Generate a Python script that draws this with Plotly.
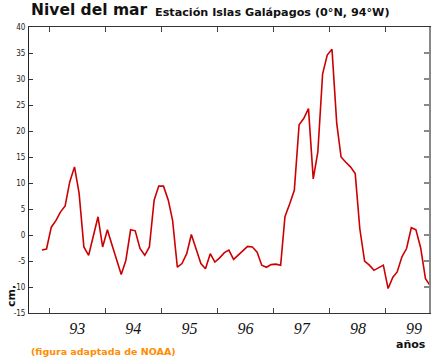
import pandas as pd
import plotly.graph_objects as go

# Monthly sea level anomaly (cm), Oct 1992 - Sep 1999
start_month = "1992-10-15"
sea_level = [
    -2.9, -2.7, 1.5, 2.8, 4.4, 5.6, 10.2, 13.1, 8.0, -2.3, -3.9, -0.4,
    3.5, -2.3, 1.0, -2.0, -4.8, -7.6, -4.9, 1.0, 0.8, -2.6, -3.9, -2.3,
    6.7, 9.4, 9.4, 6.7, 2.8, -6.2, -5.5, -3.6, 0.1, -2.9, -5.5, -6.5,
    -3.6, -5.2, -4.4, -3.4, -2.9, -4.7, -3.9, -3.0, -2.2, -2.3, -3.3, -5.8,
    -6.2, -5.7, -5.6, -5.8, 3.5, 6.0, 8.6, 21.2, 22.4, 24.3, 10.8, 16.0,
    31.0, 34.6, 35.7, 21.4, 15.0, 14.0, 13.1, 11.8, 1.2, -5.0, -5.8, -6.8,
    -6.3, -5.8, -10.3, -8.1, -7.1, -4.2, -2.6, 1.4, 1.0, -2.5, -8.4, -9.7,
]
dates = pd.date_range(start=start_month, periods=len(sea_level), freq="MS") + pd.Timedelta(days=14)

y_ticks = [40, 35, 30, 25, 20, 15, 10, 5, 0, -5, -10, -15]
x_range = ["1992-08-23", "1999-10-08"]
y_range = [-15, 40]

title_text = "Nivel del mar"
subtitle_text = "Estación Islas Galápagos (0°N, 94°W)"
x_title = "años"
y_title = "cm."
source_text = "(figura adaptada de NOAA)"

fig = go.Figure()
fig.add_trace(go.Scatter(
    x=dates, y=sea_level, mode="lines",
    line=dict(color="#cc0000", width=1.6),
    hoverinfo="skip", showlegend=False,
))
fig.add_trace(go.Scatter(
    x=[dates[0]], y=[sea_level[0]], yaxis="y2", mode="lines",
    line=dict(width=0), hoverinfo="skip", showlegend=False,
))

L, R, T, B = 29, 11, 27, 50
fig.update_layout(
    width=440, height=363,
    margin=dict(l=L, r=R, t=T, b=B),
    paper_bgcolor="white", plot_bgcolor="white",
    font=dict(family="DejaVu Sans", color="black"),
    xaxis=dict(
        type="date", range=x_range, dtick="M12", tick0="1993-01-01",
        tickformat="%y", ticklabelmode="period",
        ticks="inside", ticklen=5, tickcolor="#444", tickwidth=1,
        showline=True, linecolor="#333", linewidth=1, mirror="ticks",
        showgrid=False, zeroline=False,
        tickfont=dict(family="Liberation Serif", size=16, style="italic", color="#111"),
        ticklabelstandoff=1,
    ),
    yaxis=dict(
        range=y_range, tickvals=y_ticks, ticktext=[str(v) for v in y_ticks],
        ticks="inside", ticklen=4, tickcolor="#333",
        showline=True, linecolor="#222", linewidth=1,
        showgrid=False, zeroline=False,
        tickfont=dict(family="DejaVu Sans Condensed", size=8, color="#222"),
        ticklabelstandoff=1,
    ),
    yaxis2=dict(
        range=y_range, tickvals=y_ticks, overlaying="y", side="right",
        ticks="inside", ticklen=5, tickcolor="#888", tickwidth=2,
        showline=True, linecolor="#888", linewidth=2,
        showticklabels=False, showgrid=False, zeroline=False,
    ),
    annotations=[
        dict(text=f"<b>{title_text}</b>", x=29, y=363 - 21, xref="paper", yref="paper",
             showarrow=False, xanchor="left", yanchor="bottom",
             font=dict(family="DejaVu Sans", size=15.5, color="#111")),
        dict(text=f"<b>{subtitle_text}</b>", x=153, y=363 - 21, xref="paper", yref="paper",
             showarrow=False, xanchor="left", yanchor="bottom",
             font=dict(family="DejaVu Sans", size=11.2, color="#111")),
        dict(text=f"<b>{x_title}</b>", x=428, y=363 - 344, xref="paper", yref="paper",
             showarrow=False, xanchor="right", yanchor="middle",
             font=dict(family="DejaVu Sans", size=11, color="#111")),
        dict(text=f"<b>{y_title}</b>", x=11, y=363 - 296, xref="paper", yref="paper",
             showarrow=False, xanchor="center", yanchor="middle", textangle=-90,
             font=dict(family="DejaVu Sans", size=11, color="#111")),
        dict(text=f"<b>{source_text}</b>", x=29, y=363 - 351, xref="paper", yref="paper",
             showarrow=False, xanchor="left", yanchor="middle",
             font=dict(family="DejaVu Sans", size=9.5, color="#ff8c00")),
    ],
)

# convert pixel-based annotation positions to paper coordinates
pw, ph = 440 - L - R, 363 - T - B
for a in fig.layout.annotations:
    a.x = (a.x - L) / pw
    a.y = (a.y - B) / ph

fig.write_html("out.html", config={"displayModeBar": False},
               post_script="document.body.style.margin='0';")
